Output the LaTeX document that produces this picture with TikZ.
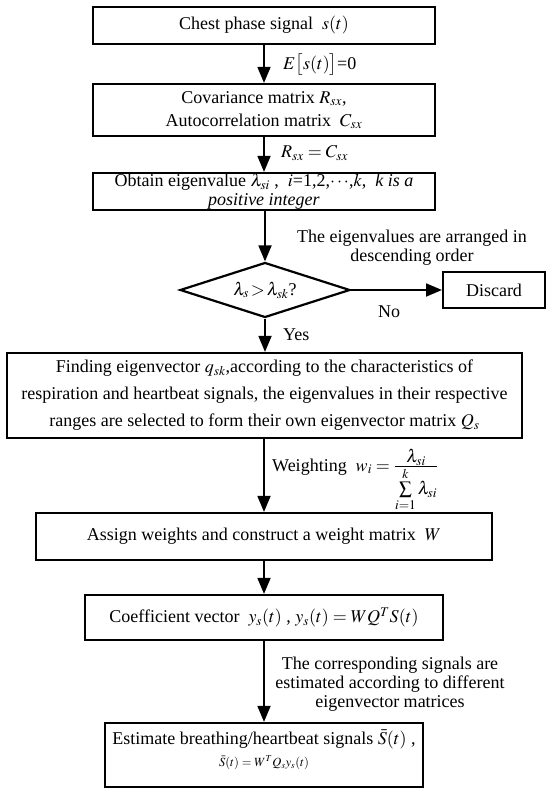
\documentclass[tikz,border=0pt]{standalone}
\usepackage{mathptmx}
\usepackage{fontspec}
\setmainfont{Liberation Serif}
\usetikzlibrary{shapes.geometric,arrows.meta}
\newcommand\myfs{\fontsize{18}{23}\selectfont}
\begin{document}
\begin{tikzpicture}[x=1pt,y=-1pt,
  box/.style={draw, line width=2.2pt, inner sep=0pt, align=center, font=\myfs},
  lbl/.style={inner sep=0pt, align=center, font=\myfs},
  flow/.style={line width=1.8pt, -{Triangle[length=16pt,width=13pt]}}
]
\useasboundingbox (0,0) rectangle (550,794);
\fill[white] (0,0) rectangle (550,794);

\node[box, minimum width=342pt, minimum height=37pt] (b1) at (264,25.5) {Chest phase signal \ $s(t)$};
\node[box, minimum width=342pt, minimum height=52pt] (b2) at (264,110) {Covariance matrix $R_{sx}$,\\Autocorrelation matrix \ $C_{sx}$};
\node[box, minimum width=342pt, minimum height=37pt, font=\fontsize{18}{19}\selectfont] (b3) at (264,191.5) {Obtain eigenvalue $\lambda_{si}$ , \ $i$=1,2,$\cdots$,$k$, \ \textit{k is a}\\\textit{positive integer}};
\node[draw, line width=2.2pt, shape=diamond, aspect=3.1, inner sep=0pt, minimum width=170pt, minimum height=55pt, font=\myfs] (d) at (265,290) {$\lambda_{s}\!>\!\lambda_{sk}$?};
\node[box, line width=2pt, minimum width=102pt, minimum height=36pt] (dis) at (494,290) {Discard};
\node[box, minimum width=515pt, minimum height=85pt, font=\fontsize{18}{27}\selectfont] (b4) at (264.5,395.5) {Finding eigenvector $q_{sk}$,according to the characteristics of\\respiration and heartbeat signals, the eigenvalues in their respective\\ranges are selected to form their own eigenvector matrix $Q_{s}$};
\node[box, minimum width=456pt, minimum height=47pt] (b5) at (264,536.5) {Assign weights and construct a weight matrix \ $W$};
\node[box, minimum width=358pt, minimum height=45pt] (b6) at (264,617.5) {Coefficient vector \ $y_{s}(t)$ , $y_{s}(t)=WQ^{T}S(t)$};
\node[box, minimum width=318pt, minimum height=64pt, font=\fontsize{18}{22}\selectfont] (b7) at (264,755) {Estimate breathing/heartbeat signals $\bar{S}(t)$ ,\\{\fontsize{12.5}{15}\selectfont $\bar{S}(t)=W^{T}Q_{s}y_{s}(t)$\rule[-14pt]{0pt}{14pt}}};

\draw[flow] (b1.south) -- (b2.north);
\draw[flow] (b2.south) -- (b3.north);
\draw[flow] (b3.south -| d.north) -- (d.north);
\draw[flow] (d.south) -- (d.south |- b4.north);
\draw[flow] (d.east) -- (dis.west);
\draw[flow] (b4.south -| b5.north) -- (b5.north);
\draw[flow] (b5.south) -- (b6.north);
\draw[flow] (b6.south) -- (b7.north);

\node[lbl, anchor=west] (l1) at (283,65) {$E\bigl[s(t)\bigr]$=0};
\node[lbl, anchor=west] (l2) at (281,153) {$R_{sx}=C_{sx}$};
\node[lbl, font=\fontsize{18}{19}\selectfont] (l3) at (412,248) {The eigenvalues are arranged in\\descending order};
\node[lbl] (l4) at (389,312) {No};
\node[lbl, anchor=west] (l5) at (283,335) {Yes};
\node[lbl, anchor=base west] (l6) at (272,471) {Weighting \ $w_{i}=\frac{\textstyle\lambda_{si}}{\textstyle\sum\limits_{i=1}^{k}\lambda_{si}}$};
\node[lbl, font=\fontsize{18}{19}\selectfont] (l7) at (390,684) {The corresponding signals are\\estimated according to different\\eigenvector matrices};
\end{tikzpicture}
\end{document}
